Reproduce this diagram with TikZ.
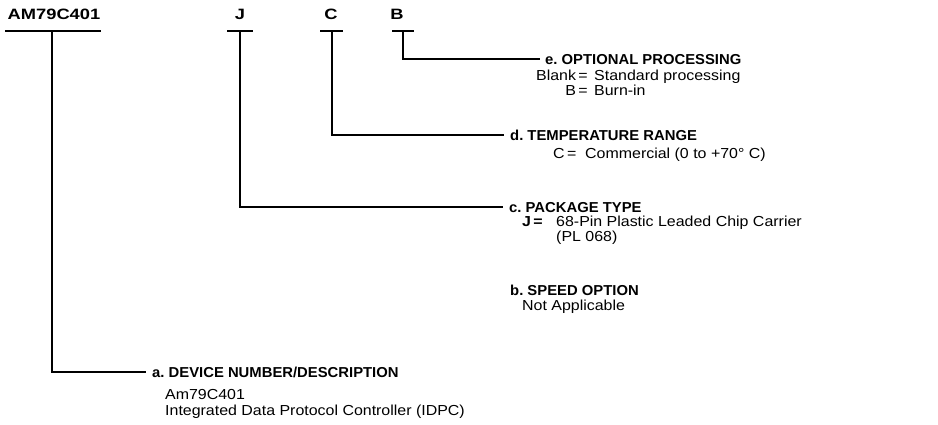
\documentclass[tikz,border=0pt]{standalone}
\usepackage{fontspec}
\setmainfont{Liberation Sans}
\newfontfamily\codefont{Liberation Sans}[FakeStretch=1.22]
\newfontfamily\headfont{Liberation Sans}[FakeStretch=1.03]
\newfontfamily\descfont{Liberation Sans}[FakeStretch=1.1]
\usetikzlibrary{positioning}
\frenchspacing

\tikzset{
  code/.style={anchor=base, inner sep=0pt, font=\fontsize{15}{18}\codefont\bfseries},
  head/.style={anchor=west, inner sep=0pt, text height=10.5pt, text depth=0pt,
               font=\fontsize{14.4}{17}\headfont\bfseries},
  desc/.style={anchor=base west, inner sep=0pt, font=\fontsize{14.5}{17}\descfont},
  wire/.style={line width=1.8pt, line cap=rect},
}

\begin{document}
\begin{tikzpicture}[x=1pt, y=-1pt]
  \useasboundingbox (0,0) rectangle (938,424);
  % Ordering code
  \node[code] (am) at (54,19) {AM79C401};
  \node[code] (jcode) at (240,19) {J};
  \node[code] (ccode) at (331,19) {C};
  \node[code] (bcode) at (397,19) {B};
  % Taps under each field
  \coordinate (amtap) at (52,31);
  \coordinate (jtap) at (240,31);
  \coordinate (ctap) at (332,31);
  \coordinate (btap) at (403,31);
  \draw[wire] (6,31) -- (100,31);
  \draw[wire] (228,31) -- (252,31);
  \draw[wire] (321,31) -- (342,31);
  \draw[wire] (393,31) -- (413,31);
  % e. optional processing
  \node[head] (optproc) at (545,59) {e. OPTIONAL PROCESSING};
  \node[desc, anchor=base east] (blankeq) at (588,80) {Blank\,=};
  \node[desc] (stdproc) at (594,80) {Standard processing};
  \node[desc, anchor=base east] (beq) at (588,95) {B\,=};
  \node[desc] (burnin) at (594,95) {Burn-in};
  % d. temperature range
  \node[head] (temprange) at (510,135) {d. TEMPERATURE RANGE};
  \node[desc] (ceq) at (553,158) {C\,=};
  \node[desc] (commercial) at (585,158) {Commercial (0 to +70° C)};
  % c. package type
  \node[head] (pkgtype) at (509,207) {c. PACKAGE TYPE};
  \node[desc] (jeq) at (522,226) {\bfseries J\,=};
  \node[desc] (plcc) at (556,226) {68-Pin Plastic Leaded Chip Carrier};
  \node[desc] (pl068) at (556,241) {(PL 068)};
  % b. speed option
  \node[head] (speed) at (510,290) {b. SPEED OPTION};
  \node[desc] (notapp) at (522,310) {Not Applicable};
  % a. device number
  \node[head] (devnum) at (152,372) {a. DEVICE NUMBER/DESCRIPTION};
  \node[desc] (am79) at (165,399) {Am79C401};
  \node[desc] (idpc) at (165,415) {Integrated Data Protocol Controller (IDPC)};
  % Leaders
  \draw[wire] (btap) |- ([xshift=-6pt]optproc.west);
  \draw[wire] (ctap) |- ([xshift=-7pt]temprange.west);
  \draw[wire] (jtap) |- ([xshift=-7pt]pkgtype.west);
  \draw[wire] (amtap) |- ([xshift=-7pt]devnum.west);
\end{tikzpicture}
\end{document}
